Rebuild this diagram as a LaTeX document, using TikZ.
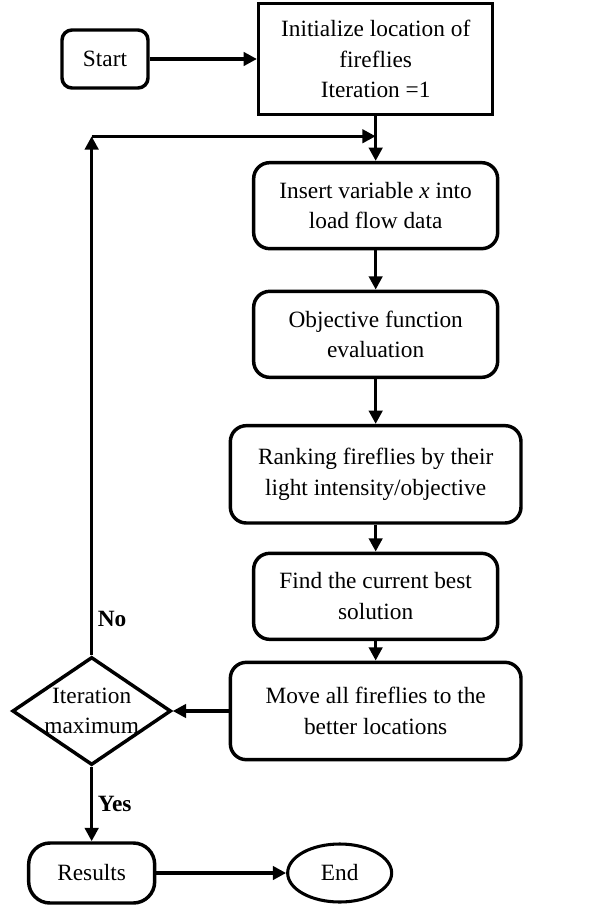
\documentclass[tikz,border=0pt]{standalone}
\usepackage{fontspec}
\setmainfont{Liberation Serif}
\usetikzlibrary{shapes, arrows.meta, positioning, calc}
\tikzstyle{block} = [rectangle, draw, line width=2.6pt, rounded corners=12pt, align=center, minimum width=183pt, minimum height=64.5pt]
\tikzstyle{wideblock} = [block, minimum width=218pt, minimum height=73pt]
\tikzstyle{entity} = [rectangle, draw, line width=2.6pt, align=center, minimum width=175.5pt, minimum height=83pt]
\tikzstyle{terminal} = [rectangle, draw, line width=2.6pt, rounded corners=7.5pt, minimum width=64.5pt, minimum height=43.5pt]
\tikzstyle{decision} = [diamond, draw, line width=2.6pt, aspect=1.47, inner sep=-8pt, align=center, minimum width=119pt, minimum height=81pt]
\tikzstyle{cloud} = [ellipse, draw, line width=2.3pt, minimum width=78pt, minimum height=43.5pt]
\tikzstyle{line} = [draw, line width=2.5pt, -{Triangle[length=10pt, width=10pt]}]

\begin{document}
\begin{tikzpicture}[x=0.75pt, y=-0.75pt, font=\fontsize{17.5}{23}\selectfont]
    \useasboundingbox (0,0) rectangle (598,909);
    % Nodes
    \node [terminal] (start) at (105,59) {Start};
    \node [entity, right of=start, node distance=203pt] (init) {Initialize location of\\fireflies\\Iteration =1};
    \node [block, below of=init, node distance=110pt] (insert) {Insert variable \textit{x} into\\load flow data};
    \node [block, below of=insert, node distance=96.5pt] (objective) {Objective function\\evaluation};
    \node [wideblock, below of=objective, node distance=105pt] (ranking) {Ranking fireflies by their\\light intensity/objective};
    \node [block, below of=ranking, node distance=91.5pt] (best) {Find the current best\\solution};
    \node [wideblock, below of=best, node distance=86pt] (move) {Move all fireflies to the\\better locations};
    \node [decision, left of=move, node distance=213pt] (decide) {Iteration\\maximum};
    \node [terminal, below of=decide, node distance=121.5pt, rounded corners=16pt, minimum width=94.5pt, minimum height=45pt] (results) {Results};
    \node [cloud, right of=results, node distance=186pt] (end) {End};

    % Loop points
    \coordinate (join) at ($(init.south)!0.45!(insert.north)$);
    \coordinate (corner) at (decide.north |- join);

    % Lines
    \path [line] (start) -- (init);
    \path [line] (init) -- (insert);
    \path [line] (insert) -- (objective);
    \path [line] (objective) -- (ranking);
    \path [line] (ranking) -- (best);
    \path [line] (best) -- (move);
    \path [line] (move) -- (decide);
    \path [line] (decide) -- node [right, pos=0.07] {\textbf{No}} (corner);
    \path [line] (corner) -- (join);
    \path [line] (decide) -- node [right] {\textbf{Yes}} (results);
    \path [line] (results) -- (end);
\end{tikzpicture}
\end{document}
